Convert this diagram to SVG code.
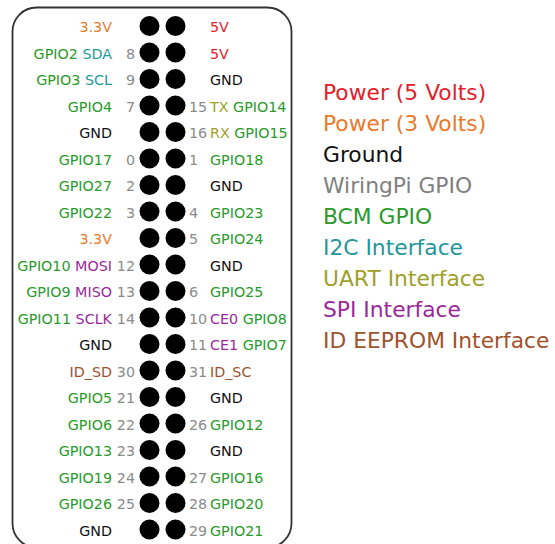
<svg xmlns="http://www.w3.org/2000/svg" width="555" height="544" viewBox="0 0 555 544">
<style>
text{font-family:"DejaVu Sans","Liberation Sans",sans-serif;}
.l{font-size:14.3px;text-anchor:end;}
.r{font-size:14.3px;text-anchor:start;}
.n{fill:#8a8a8a;}
.p5{fill:#e3202a;}
.p3{fill:#e87a2a;}
.g{fill:#111;}
.w{fill:#808080;}
.b{fill:#2a9a2a;}
.i{fill:#23979a;}
.u{fill:#a0a02a;}
.s{fill:#9a2a9a;}
.e{fill:#a0522d;}
.pin{fill:#000;}
.leg{font-size:21.8px;}
</style>
<rect width="555" height="544" fill="#fff"/>
<rect id="board" x="12.5" y="7.5" width="279" height="540" rx="24" fill="#fff" stroke="#333" stroke-width="1.8"/>
<g id="connectors"/>
<g id="pins">
<g id="row1"><circle class="pin" cx="149.5" cy="26" r="10"/><circle class="pin" cx="175.5" cy="26" r="10"/><text class="l" x="112" y="32"><tspan class="p3">3.3V</tspan></text><text class="r" x="210" y="32"><tspan class="p5">5V</tspan></text></g>
<g id="row2"><circle class="pin" cx="149.5" cy="52.5" r="10"/><circle class="pin" cx="175.5" cy="52.5" r="10"/><text class="l" x="112" y="58.5"><tspan class="b">GPIO2</tspan> <tspan class="i">SDA</tspan></text><text class="l n" x="135" y="58.5">8</text><text class="r" x="210" y="58.5"><tspan class="p5">5V</tspan></text></g>
<g id="row3"><circle class="pin" cx="149.5" cy="79" r="10"/><circle class="pin" cx="175.5" cy="79" r="10"/><text class="l" x="112" y="85"><tspan class="b">GPIO3</tspan> <tspan class="i">SCL</tspan></text><text class="l n" x="135" y="85">9</text><text class="r g" x="210" y="85">GND</text></g>
<g id="row4"><circle class="pin" cx="149.5" cy="105.5" r="10"/><circle class="pin" cx="175.5" cy="105.5" r="10"/><text class="l b" x="112" y="111.5">GPIO4</text><text class="l n" x="135" y="111.5">7</text><text class="r n" x="189" y="111.5">15</text><text class="r" x="210" y="111.5"><tspan class="u">TX</tspan> <tspan class="b">GPIO14</tspan></text></g>
<g id="row5"><circle class="pin" cx="149.5" cy="132" r="10"/><circle class="pin" cx="175.5" cy="132" r="10"/><text class="l g" x="112" y="138">GND</text><text class="r n" x="189" y="138">16</text><text class="r" x="210" y="138"><tspan class="u">RX</tspan> <tspan class="b">GPIO15</tspan></text></g>
<g id="row6"><circle class="pin" cx="149.5" cy="158.5" r="10"/><circle class="pin" cx="175.5" cy="158.5" r="10"/><text class="l b" x="112" y="164.5">GPIO17</text><text class="l n" x="135" y="164.5">0</text><text class="r n" x="189" y="164.5">1</text><text class="r b" x="210" y="164.5">GPIO18</text></g>
<g id="row7"><circle class="pin" cx="149.5" cy="185" r="10"/><circle class="pin" cx="175.5" cy="185" r="10"/><text class="l b" x="112" y="191">GPIO27</text><text class="l n" x="135" y="191">2</text><text class="r g" x="210" y="191">GND</text></g>
<g id="row8"><circle class="pin" cx="149.5" cy="211.5" r="10"/><circle class="pin" cx="175.5" cy="211.5" r="10"/><text class="l b" x="112" y="217.5">GPIO22</text><text class="l n" x="135" y="217.5">3</text><text class="r n" x="189" y="217.5">4</text><text class="r b" x="210" y="217.5">GPIO23</text></g>
<g id="row9"><circle class="pin" cx="149.5" cy="238" r="10"/><circle class="pin" cx="175.5" cy="238" r="10"/><text class="l p3" x="112" y="244">3.3V</text><text class="r n" x="189" y="244">5</text><text class="r b" x="210" y="244">GPIO24</text></g>
<g id="row10"><circle class="pin" cx="149.5" cy="264.5" r="10"/><circle class="pin" cx="175.5" cy="264.5" r="10"/><text class="l" x="112" y="270.5"><tspan class="b">GPIO10</tspan> <tspan class="s">MOSI</tspan></text><text class="l n" x="135" y="270.5">12</text><text class="r g" x="210" y="270.5">GND</text></g>
<g id="row11"><circle class="pin" cx="149.5" cy="291" r="10"/><circle class="pin" cx="175.5" cy="291" r="10"/><text class="l" x="112" y="297"><tspan class="b">GPIO9</tspan> <tspan class="s">MISO</tspan></text><text class="l n" x="135" y="297">13</text><text class="r n" x="189" y="297">6</text><text class="r b" x="210" y="297">GPIO25</text></g>
<g id="row12"><circle class="pin" cx="149.5" cy="317.5" r="10"/><circle class="pin" cx="175.5" cy="317.5" r="10"/><text class="l" x="112" y="323.5"><tspan class="b">GPIO11</tspan> <tspan class="s">SCLK</tspan></text><text class="l n" x="135" y="323.5">14</text><text class="r n" x="189" y="323.5">10</text><text class="r" x="210" y="323.5"><tspan class="s">CE0</tspan> <tspan class="b">GPIO8</tspan></text></g>
<g id="row13"><circle class="pin" cx="149.5" cy="344" r="10"/><circle class="pin" cx="175.5" cy="344" r="10"/><text class="l g" x="112" y="350">GND</text><text class="r n" x="189" y="350">11</text><text class="r" x="210" y="350"><tspan class="s">CE1</tspan> <tspan class="b">GPIO7</tspan></text></g>
<g id="row14"><circle class="pin" cx="149.5" cy="370.5" r="10"/><circle class="pin" cx="175.5" cy="370.5" r="10"/><text class="l e" x="112" y="376.5">ID_SD</text><text class="l n" x="135" y="376.5">30</text><text class="r n" x="189" y="376.5">31</text><text class="r e" x="210" y="376.5">ID_SC</text></g>
<g id="row15"><circle class="pin" cx="149.5" cy="397" r="10"/><circle class="pin" cx="175.5" cy="397" r="10"/><text class="l b" x="112" y="403">GPIO5</text><text class="l n" x="135" y="403">21</text><text class="r g" x="210" y="403">GND</text></g>
<g id="row16"><circle class="pin" cx="149.5" cy="423.5" r="10"/><circle class="pin" cx="175.5" cy="423.5" r="10"/><text class="l b" x="112" y="429.5">GPIO6</text><text class="l n" x="135" y="429.5">22</text><text class="r n" x="189" y="429.5">26</text><text class="r b" x="210" y="429.5">GPIO12</text></g>
<g id="row17"><circle class="pin" cx="149.5" cy="450" r="10"/><circle class="pin" cx="175.5" cy="450" r="10"/><text class="l b" x="112" y="456">GPIO13</text><text class="l n" x="135" y="456">23</text><text class="r g" x="210" y="456">GND</text></g>
<g id="row18"><circle class="pin" cx="149.5" cy="476.5" r="10"/><circle class="pin" cx="175.5" cy="476.5" r="10"/><text class="l b" x="112" y="482.5">GPIO19</text><text class="l n" x="135" y="482.5">24</text><text class="r n" x="189" y="482.5">27</text><text class="r b" x="210" y="482.5">GPIO16</text></g>
<g id="row19"><circle class="pin" cx="149.5" cy="503" r="10"/><circle class="pin" cx="175.5" cy="503" r="10"/><text class="l b" x="112" y="509">GPIO26</text><text class="l n" x="135" y="509">25</text><text class="r n" x="189" y="509">28</text><text class="r b" x="210" y="509">GPIO20</text></g>
<g id="row20"><circle class="pin" cx="149.5" cy="529.5" r="10"/><circle class="pin" cx="175.5" cy="529.5" r="10"/><text class="l g" x="112" y="535.5">GND</text><text class="r n" x="189" y="535.5">29</text><text class="r b" x="210" y="535.5">GPIO21</text></g>
</g>
<g id="legend">
<text class="leg p5" x="323" y="100">Power (5 Volts)</text>
<text class="leg p3" x="323" y="131">Power (3 Volts)</text>
<text class="leg g" x="323" y="162">Ground</text>
<text class="leg w" x="323" y="193">WiringPi GPIO</text>
<text class="leg b" x="323" y="224">BCM GPIO</text>
<text class="leg i" x="323" y="255">I2C Interface</text>
<text class="leg u" x="323" y="286">UART Interface</text>
<text class="leg s" x="323" y="317">SPI Interface</text>
<text class="leg e" x="323" y="348">ID EEPROM Interface</text>
</g>
</svg>
